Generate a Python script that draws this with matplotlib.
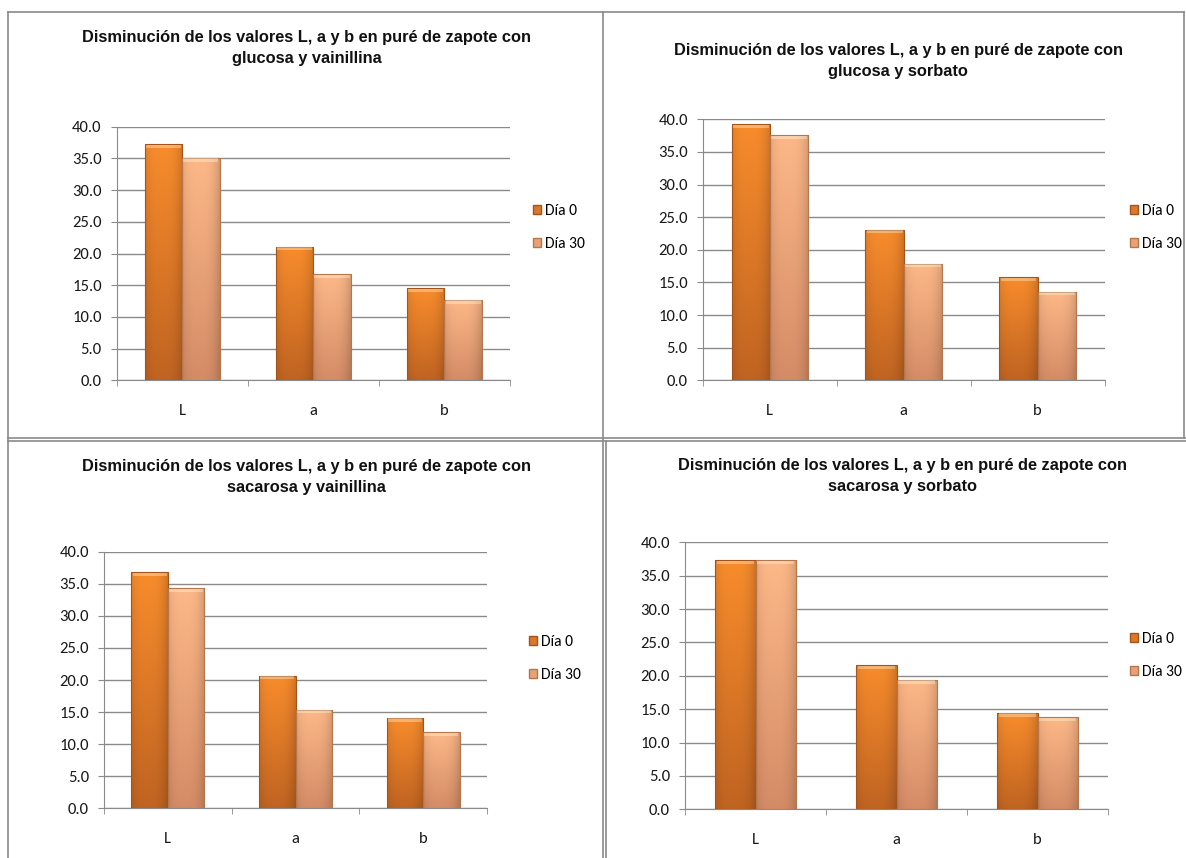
import matplotlib
matplotlib.use("Agg")
import matplotlib.pyplot as plt
import numpy as np
from matplotlib.patches import Patch, Rectangle
from matplotlib.lines import Line2D

# ---------------- data ----------------
categories = ["L", "a", "b"]
series_names = ["Día 0", "Día 30"]

titles = [
    "Disminución de los valores L, a y b en puré de zapote con\nglucosa y vainillina",
    "Disminución de los valores L, a y b en puré de zapote con\nglucosa y sorbato",
    "Disminución de los valores L, a y b en puré de zapote con\nsacarosa y vainillina",
    "Disminución de los valores L, a y b en puré de zapote con\nsacarosa y sorbato",
]

glucosa_vainillina_dia0 = [37.2, 21.1, 14.5]
glucosa_vainillina_dia30 = [35.1, 16.7, 12.7]
glucosa_sorbato_dia0 = [39.3, 23.1, 15.8]
glucosa_sorbato_dia30 = [37.6, 17.9, 13.6]
sacarosa_vainillina_dia0 = [36.8, 20.7, 14.1]
sacarosa_vainillina_dia30 = [34.3, 15.4, 11.9]
sacarosa_sorbato_dia0 = [37.3, 21.6, 14.5]
sacarosa_sorbato_dia30 = [37.3, 19.4, 13.8]

yticks = [0, 5, 10, 15, 20, 25, 30, 35, 40]
ytick_labels = ["0.0", "5.0", "10.0", "15.0", "20.0", "25.0", "30.0", "35.0", "40.0"]

# ---------------- styling ----------------
W, H = 1186, 858
fig = plt.figure(figsize=(W / 100, H / 100), dpi=100)
fig.patch.set_facecolor("white")

tick_font = ["Carlito", "DejaVu Sans"]
title_font = ["Liberation Sans", "DejaVu Sans"]

c0_top, c0_bot, c0_edge = np.array([248, 140, 44]) / 255, np.array([192, 100, 34]) / 255, "#a3531b"
c1_top, c1_bot, c1_edge = np.array([253, 184, 136]) / 255, np.array([212, 140, 102]) / 255, "#b5764e"
grid_col = "#8a8a8a"

# pixel layout of each panel: (axis left, axis right, y40, y0, title cx, title y1, legend x, legend y0)
panels = [
    (116.7, 510.0, 126.7, 380.3, 307, 37, 533, 209),
    (702.8, 1104.5, 119.3, 380.3, 898, 50, 1130, 209),
    (104.0, 487.0, 551.7, 808.3, 306, 466, 529, 640),
    (685.0, 1108.0, 542.3, 809.3, 903, 465, 1130, 637),
]
data = [
    (glucosa_vainillina_dia0, glucosa_vainillina_dia30),
    (glucosa_sorbato_dia0, glucosa_sorbato_dia30),
    (sacarosa_vainillina_dia0, sacarosa_vainillina_dia30),
    (sacarosa_sorbato_dia0, sacarosa_sorbato_dia30),
]


def gradient_img(top, bot):
    t = np.linspace(0, 1, 64)[:, None]
    img = top[None, :] * (1 - t) + bot[None, :] * t
    side = np.linspace(0, 1, 32)
    shade = 1 - 0.12 * (np.abs(side - 0.45) * 2) ** 3
    img = img[:, None, :] * shade[None, :, None]
    return np.clip(img, 0, 1)


def draw_bar_gradient(ax, bars, top, bot, edge):
    for b in bars:
        x, y = b.get_x(), b.get_y()
        w, h = b.get_width(), b.get_height()
        im = ax.imshow(gradient_img(top, bot), extent=[x, x + w, y, y + h], aspect="auto",
                       origin="upper", zorder=3, interpolation="bilinear")
        im.set_clip_path(b)
        b.set_facecolor("none")
        b.set_edgecolor(edge)
        b.set_linewidth(0.8)
        b.set_zorder(4)
        hl = Rectangle((x + w * 0.03, y + h - 0.6), w * 0.94, 0.5,
                       facecolor=(1, 1, 0.9, 0.35), edgecolor="none", zorder=4)
        ax.add_patch(hl)


for (axl, axr, y40, y0, tcx, ty1, lx, ly0), (d0, d30), title in zip(panels, data, titles):
    ax = fig.add_axes([axl / W, (H - y0) / H, (axr - axl) / W, (y0 - y40) / H])
    x = np.arange(len(categories))
    bw = 0.285
    b0 = ax.bar(x - bw / 2, d0, width=bw, zorder=3)
    b1 = ax.bar(x + bw / 2, d30, width=bw, zorder=3)
    draw_bar_gradient(ax, b0, c0_top, c0_bot, c0_edge)
    draw_bar_gradient(ax, b1, c1_top, c1_bot, c1_edge)

    ax.set_xlim(-0.5, len(categories) - 0.5)
    ax.set_ylim(0, 40)
    ax.set_yticks(yticks)
    ax.set_yticklabels(ytick_labels, fontsize=12, family=tick_font, color="#1a1a1a")
    ax.yaxis.grid(True, color=grid_col, linewidth=1.0, zorder=0)
    ax.set_axisbelow(True)

    ax.set_xticks(x)
    ax.set_xticklabels(categories, fontsize=12, family=tick_font, color="#1a1a1a")
    ax.set_xticks(np.arange(-0.5, len(categories)), minor=True)
    ax.tick_params(axis="x", which="major", length=0, pad=17)
    ax.tick_params(axis="x", which="minor", length=4.3, color=grid_col, direction="out")
    ax.tick_params(axis="y", length=4.3, color=grid_col, direction="out", pad=6.5)

    for s in ["top", "right"]:
        ax.spines[s].set_visible(False)
    ax.spines["left"].set_color(grid_col)
    ax.spines["bottom"].set_color(grid_col)

    fig.text(tcx / W, 1 - (ty1 - 7) / H, title, ha="center", va="top",
             fontsize=11.8, fontweight="bold", family=title_font,
             color="#111111", linespacing=1.5)

    handles = [Patch(facecolor=(c0_top + c0_bot) / 2, edgecolor=c0_edge),
               Patch(facecolor=(c1_top + c1_bot) / 2, edgecolor=c1_edge)]
    fig.legend(handles, series_names, loc="upper left",
               bbox_to_anchor=(lx / W, 1 - (ly0 - 5) / H),
               frameon=False, handlelength=0.5, handleheight=0.5,
               handletextpad=0.3, labelspacing=1.2, borderaxespad=0.0,
               borderpad=0.0, prop={"family": tick_font, "size": 11.2})

# panel borders
border = "#8a8a8a"
def hline(y, x0, x1):
    fig.add_artist(Line2D([x0 / W, x1 / W], [1 - y / H, 1 - y / H], color=border, lw=1.2))
def vline(x, y0, y1):
    fig.add_artist(Line2D([x / W, x / W], [1 - y0 / H, 1 - y1 / H], color=border, lw=1.2))

hline(12, 8, 1184)
hline(438, 8, 1186)
hline(441, 8, 1186)
vline(8, 12, 858)
vline(603, 12, 858)
vline(606, 441, 858)
vline(1184, 12, 438)

fig.savefig("out.png", dpi=100, facecolor="white")
